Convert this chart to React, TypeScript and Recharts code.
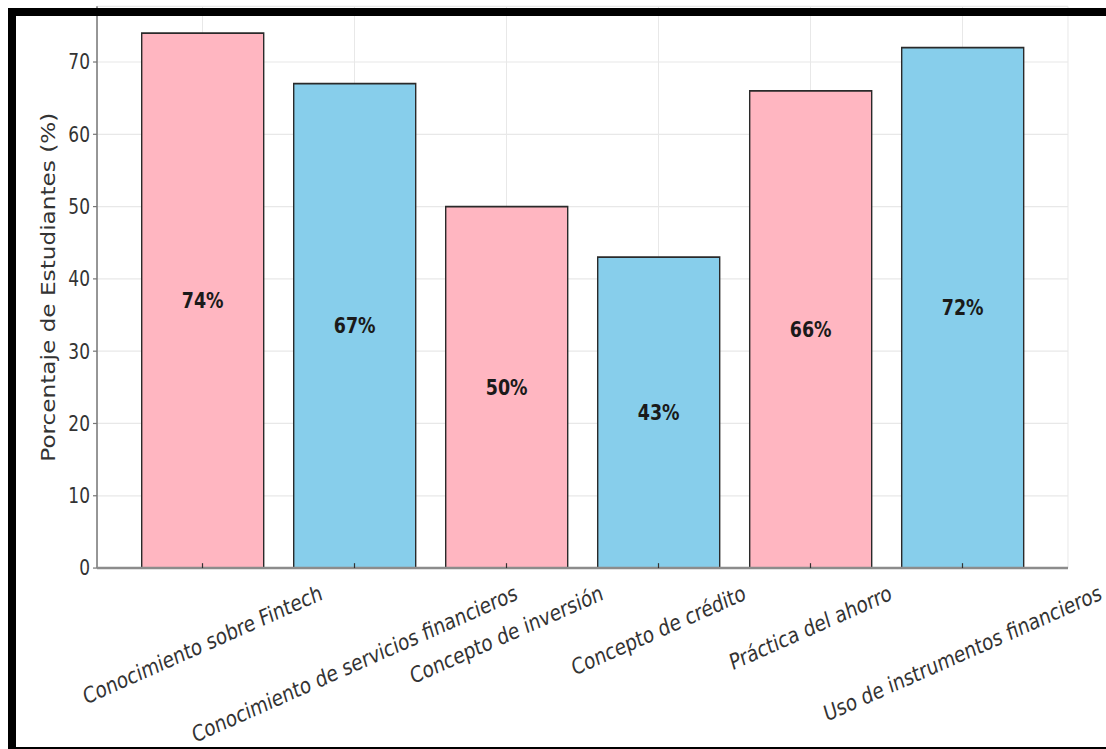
import React from "react";
import {
  BarChart,
  Bar,
  XAxis,
  YAxis,
  CartesianGrid,
  Cell,
  LabelList,
} from "recharts";

// Survey results: share of students per financial-literacy topic
const categories = [
  "Conocimiento sobre Fintech",
  "Conocimiento de servicios financieros",
  "Concepto de inversión",
  "Concepto de crédito",
  "Práctica del ahorro",
  "Uso de instrumentos financieros",
];
const percentages = [74, 67, 50, 43, 66, 72];
const barColors = ["#FFB6C1", "#87CEEB", "#FFB6C1", "#87CEEB", "#FFB6C1", "#87CEEB"];
const yTicks = [0, 10, 20, 30, 40, 50, 60, 70];
const yLabel = "Porcentaje de Estudiantes (%)";

const data = categories.map((name, i) => ({ name, value: percentages[i] }));

const FONT = "DejaVu Sans";
const W = 1106;
const H = 749;
const STRETCH = 1.22; // vertical stretch of the rendered figure
const INNER_H = H / STRETCH;

const TICK_FONT = 18.2;
const ROT = 20;

let measureCtx: CanvasRenderingContext2D | null = null;
function textWidth(s: string, font: string): number {
  if (!measureCtx) {
    const c = document.createElement("canvas");
    measureCtx = c.getContext("2d");
  }
  if (!measureCtx) return s.length * 0.6 * TICK_FONT;
  measureCtx.font = font;
  return measureCtx.measureText(s).width;
}

// Rotated category label, its bounding box centred under the tick,
// plus a short inward tick mark.
const CategoryTick = (props: any) => {
  const { x, y, payload } = props;
  const label = String(payload.value);
  const w = textWidth(label, `${TICK_FONT}px "${FONT}"`);
  const a = (ROT * Math.PI) / 180;
  const boxH = w * Math.sin(a) + TICK_FONT * Math.cos(a);
  const pad = 11;
  const cx = x;
  const cy = y + pad + boxH / 2;
  return (
    <g>
      <line x1={x} x2={x} y1={y} y2={y - 4} stroke="#333" strokeWidth={1.2} />
      <text
        x={cx}
        y={cy}
        textAnchor="middle"
        dominantBaseline="central"
        fontSize={TICK_FONT}
        fontFamily={FONT}
        fill="#333"
        transform={`rotate(${-ROT}, ${cx}, ${cy})`}
      >
        {label}
      </text>
    </g>
  );
};

const YAxisTitle = (props: any) => {
  const vb = props.viewBox || { x: 0, y: 0, width: 0, height: 0 };
  const cx = vb.x + 11;
  const cy = vb.y + vb.height / 2;
  return (
    <text
      x={cx}
      y={cy}
      textAnchor="middle"
      dominantBaseline="central"
      fontSize={19}
      fontFamily={FONT}
      fill="#333"
      transform={`rotate(-90, ${cx}, ${cy})`}
    >
      {yLabel}
    </text>
  );
};

export default function App() {
  return (
    <div
      style={{
        position: "absolute",
        left: 0,
        top: 0,
        width: W,
        height: H,
        overflow: "hidden",
        background: "#fff",
      }}
    >
      <div
        style={{
          width: W,
          height: INNER_H,
          transform: `scaleY(${STRETCH})`,
          transformOrigin: "0 0",
        }}
      >
        <BarChart
          width={W}
          height={INNER_H}
          data={data}
          margin={{ top: 5.2, right: 38, left: 37, bottom: 0 }}
          barCategoryGap="10%"
          style={{ fontFamily: FONT }}
        >
          <CartesianGrid stroke="#e8e8e8" strokeWidth={1} />
          <XAxis
            dataKey="name"
            interval={0}
            height={148.3}
            padding={{ left: 29.5, right: 29.5 }}
            tickLine={false}
            tickSize={0}
            tickMargin={0}
            tick={<CategoryTick />}
            axisLine={{ stroke: "#8c8c8c", strokeWidth: 2 }}
          />
          <YAxis
            width={60}
            domain={[0, 77.7]}
            ticks={yTicks}
            interval={0}
            tickSize={4}
            tickMargin={3}
            tickLine={{ stroke: "#777" }}
            axisLine={{ stroke: "#8c8c8c", strokeWidth: 1.8 }}
            tick={{ fontSize: 17, fill: "#333", fontFamily: FONT }}
            label={<YAxisTitle />}
          />
          <Bar
            dataKey="value"
            stroke="#2a2a2a"
            strokeWidth={1.4}
            isAnimationActive={false}
          >
            {data.map((d, i) => (
              <Cell key={d.name} fill={barColors[i]} />
            ))}
            <LabelList
              dataKey="value"
              position="center"
              formatter={(v: any) => `${v}%`}
              style={{
                fontSize: 17.5,
                fontWeight: "bold",
                fill: "#1a1a1a",
                fontFamily: FONT,
              }}
            />
          </Bar>
        </BarChart>
      </div>
      <div
        style={{
          position: "absolute",
          left: 8,
          top: 8,
          width: W + 20,
          height: 747,
          boxSizing: "border-box",
          borderTop: "8px solid #000",
          borderLeft: "8px solid #000",
          borderBottom: "8px solid #000",
          pointerEvents: "none",
        }}
      />
    </div>
  );
}
